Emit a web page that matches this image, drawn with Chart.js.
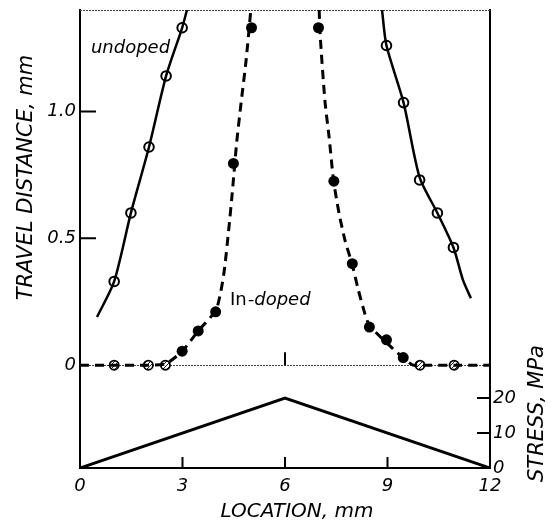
<!DOCTYPE html>
<html>
<head>
<meta charset="utf-8">
<script src="https://cdn.jsdelivr.net/npm/chart.js@4.4.1/dist/chart.umd.min.js"></script>
<style>
  html, body { margin: 0; padding: 0; background: #fff; }
  #wrap { position: relative; width: 551px; height: 528px; }
</style>
</head>
<body>
<div id="wrap"><canvas id="chart" width="551" height="528"></canvas></div>
<script>
/* ---- data ---- */

// undoped: measured points (open circles)
var undopedX = [1.0, 1.49, 2.02, 2.52, 2.99, 8.97, 9.47, 9.94, 10.46, 10.93];
var undopedY = [0.33, 0.60, 0.86, 1.14, 1.33, 1.26, 1.035, 0.73, 0.60, 0.464];

// undoped: drawn curves
var undopedLeftX  = [0.5, 1.0, 1.49, 2.02, 2.52, 2.99, 3.13];
var undopedLeftY  = [0.19, 0.33, 0.60, 0.86, 1.14, 1.33, 1.40];
var undopedRightX = [8.84, 8.97, 9.47, 9.94, 10.46, 10.93, 11.21, 11.44];
var undopedRightY = [1.40, 1.26, 1.035, 0.74, 0.60, 0.464, 0.335, 0.264];

// In-doped: measured points (filled circles)
var inDopedX = [2.99, 3.46, 3.97, 4.49, 5.02, 6.98, 7.43, 7.97, 8.47, 8.97, 9.46];
var inDopedY = [0.055, 0.135, 0.21, 0.795, 1.33, 1.33, 0.725, 0.40, 0.15, 0.10, 0.03];

// points sitting on zero (hatched circles)
var zeroX = [1.0, 2.0, 2.5, 9.95, 10.95];
var zeroY = [0, 0, 0, 0, 0];

// In-doped: dashed curves
var inLeftX  = [0, 1, 2, 2.5, 2.99, 3.46, 3.97, 4.12, 4.22, 4.35, 4.47, 4.58, 4.72, 4.86, 5.0];
var inLeftY  = [0, 0, 0, 0.005, 0.055, 0.135, 0.215, 0.29, 0.37, 0.53, 0.70, 0.87, 1.04, 1.20, 1.40];
var inRightX = [7.0, 7.03, 7.17, 7.29, 7.42, 7.58, 7.76, 7.96, 8.14, 8.28, 8.46, 8.96, 9.45, 9.75, 10, 11, 12];
var inRightY = [1.40, 1.30, 1.04, 0.90, 0.73, 0.60, 0.49, 0.40, 0.30, 0.23, 0.16, 0.09, 0.03, 0, 0, 0, 0];

// stress profile
var stressX = [0, 6, 12];
var stressY = [0, 20, 0];

// tick values
var xTicks = [0, 3, 6, 9, 12];
var travelTicks = [0, 0.5, 1.0];
var stressTicks = [0, 10, 20];

/* ---- helpers ---- */
function pts(xs, ys) {
  return xs.map(function(x, i) { return { x: x, y: ys[i] }; });
}

function hatch() {
  var c = document.createElement('canvas');
  c.width = 4; c.height = 4;
  var g = c.getContext('2d');
  g.fillStyle = '#fff'; g.fillRect(0, 0, 4, 4);
  g.strokeStyle = '#222'; g.lineWidth = 1;
  g.beginPath(); g.moveTo(0, 4); g.lineTo(4, 0); g.stroke();
  return g.createPattern(c, 'repeat');
}

var FONT = '"DejaVu Sans", Verdana, sans-serif';

var curve = function(xs, ys, dash, w) {
  return { data: pts(xs, ys), borderColor: '#000', borderWidth: w || 2.5, borderDash: dash || [],
           pointRadius: 0, tension: 0.25, fill: false, yAxisID: 'y' };
};

// frame, inward ticks, rotated axis titles, curve labels
var decor = {
  id: 'decor',
  beforeDatasetsDraw: function(chart) {
    var ctx = chart.ctx, a = chart.chartArea;
    var sx = chart.scales.x, sy = chart.scales.y, s2 = chart.scales.y2;
    var y0 = sy.getPixelForValue(0);
    ctx.save();
    // dotted top edge and panel separator
    ctx.strokeStyle = '#444'; ctx.lineWidth = 1; ctx.setLineDash([2, 1]);
    ctx.beginPath();
    ctx.moveTo(a.left, a.top + 0.5); ctx.lineTo(a.right, a.top + 0.5);
    ctx.moveTo(a.left, Math.round(y0) + 0.5); ctx.lineTo(a.right, Math.round(y0) + 0.5);
    ctx.stroke();
    ctx.setLineDash([]);
    ctx.strokeStyle = '#000'; ctx.lineWidth = 2;
    ctx.beginPath();
    // travel ticks (inward from left)
    travelTicks.forEach(function(v) {
      if (v === 0) return;
      var p = sy.getPixelForValue(v);
      ctx.moveTo(a.left, p); ctx.lineTo(a.left + 16, p);
    });
    // stress ticks (inward from right)
    stressTicks.forEach(function(v) {
      if (v === 0) return;
      var p = s2.getPixelForValue(v);
      ctx.moveTo(a.right, p); ctx.lineTo(a.right - 13, p);
    });
    // location ticks (upward from bottom)
    xTicks.forEach(function(v) {
      if (v === 0 || v === 12) return;
      var p = sx.getPixelForValue(v);
      ctx.moveTo(p, a.bottom); ctx.lineTo(p, a.bottom - 11);
    });
    // centre tick on the separator
    var pc = sx.getPixelForValue(6);
    ctx.moveTo(pc, y0); ctx.lineTo(pc, y0 - 13);
    ctx.stroke();
    ctx.restore();
  },
  afterDraw: function(chart) {
    var ctx = chart.ctx, a = chart.chartArea;
    var sx = chart.scales.x, sy = chart.scales.y, s2 = chart.scales.y2;
    ctx.save();
    ctx.fillStyle = '#000';
    ctx.textAlign = 'center'; ctx.textBaseline = 'middle';
    // left title, centred on upper panel
    ctx.save();
    ctx.font = 'italic 21px ' + FONT;
    ctx.translate(27, (a.top + sy.getPixelForValue(0)) / 2 - 10);
    ctx.rotate(-Math.PI / 2);
    ctx.fillText('TRAVEL DISTANCE, mm', 0, 0);
    ctx.restore();
    // right title, centred on lower panel
    ctx.save();
    ctx.font = 'italic 21px ' + FONT;
    ctx.translate(a.right + 48, (a.bottom + s2.getPixelForValue(30)) / 2 - 2);
    ctx.rotate(-Math.PI / 2);
    ctx.fillText('STRESS, MPa', 0, 0);
    ctx.restore();
    // bottom title
    ctx.font = 'italic 20px ' + FONT;
    ctx.fillText('LOCATION, mm', (a.left + a.right) / 2 + 12, a.bottom + 44);
    // curve labels
    ctx.textAlign = 'left'; ctx.textBaseline = 'alphabetic';
    ctx.font = 'italic 18px ' + FONT;
    ctx.fillText('undoped', sx.getPixelForValue(0.32), sy.getPixelForValue(1.23));
    var lx = sx.getPixelForValue(4.39), ly = sy.getPixelForValue(0.236);
    ctx.font = '18px ' + FONT;
    ctx.fillText('In', lx, ly);
    var w = ctx.measureText('In').width;
    ctx.font = 'italic 18px ' + FONT;
    ctx.fillText('-doped', lx + w + 1, ly);
    ctx.restore();
  }
};

var tickFont = { family: FONT, size: 18, style: 'italic' };

new Chart(document.getElementById('chart').getContext('2d'), {
  type: 'line',
  data: {
    datasets: [
      curve(undopedLeftX, undopedLeftY),
      curve(undopedRightX, undopedRightY),
      curve(inLeftX, inLeftY, [9, 6], 3),
      curve(inRightX, inRightY, [9, 6], 3),
      { data: pts(stressX, stressY), borderColor: '#000', borderWidth: 3, pointRadius: 0,
        tension: 0, fill: false, yAxisID: 'y2' },
      { data: pts(undopedX, undopedY), showLine: false, pointRadius: 4.8, pointBorderWidth: 2,
        pointBackgroundColor: '#fff', pointBorderColor: '#000', yAxisID: 'y' },
      { data: pts(inDopedX, inDopedY), showLine: false, pointRadius: 5.5, pointBorderWidth: 0,
        pointBackgroundColor: '#000', pointBorderColor: '#000', yAxisID: 'y' },
      { data: pts(zeroX, zeroY), showLine: false, pointRadius: 4.6, pointBorderWidth: 1.8,
        pointBackgroundColor: hatch(), pointBorderColor: '#000', yAxisID: 'y' }
    ]
  },
  options: {
    responsive: false,
    animation: false,
    devicePixelRatio: 1,
    layout: { padding: { top: 10, left: 0, right: 0, bottom: 0 } },
    plugins: { legend: { display: false }, tooltip: { enabled: false } },
    scales: {
      x: {
        type: 'linear', min: 0, max: 12,
        afterBuildTicks: function(s) { s.ticks = xTicks.map(function(v) { return { value: v }; }); },
        afterFit: function(s) { s.height = 60; },
        grid: { display: false, drawTicks: false },
        border: { display: true, color: '#000', width: 2 },
        ticks: { color: '#000', font: tickFont, padding: 8, maxRotation: 0 }
      },
      y: {
        position: 'left', min: -0.4055, max: 1.40,
        afterBuildTicks: function(s) { s.ticks = travelTicks.map(function(v) { return { value: v }; }); },
        afterFit: function(s) { s.width = 80; s.paddingTop = 0; s.paddingBottom = 0; },
        grid: { display: false, drawTicks: false },
        border: { display: true, color: '#000', width: 2 },
        ticks: { color: '#000', font: tickFont, padding: 4,
                 callback: function(v) { return v === 0 ? '0' : v.toFixed(1); } }
      },
      y2: {
        position: 'right', min: 0, max: 130.86,
        afterBuildTicks: function(s) { s.ticks = stressTicks.map(function(v) { return { value: v }; }); },
        afterFit: function(s) { s.width = 61; s.paddingTop = 0; s.paddingBottom = 0; },
        grid: { display: false, drawTicks: false },
        border: { display: true, color: '#000', width: 2 },
        ticks: { color: '#000', font: tickFont, padding: 3 }
      }
    }
  },
  plugins: [decor]
});
</script>
</body>
</html>
